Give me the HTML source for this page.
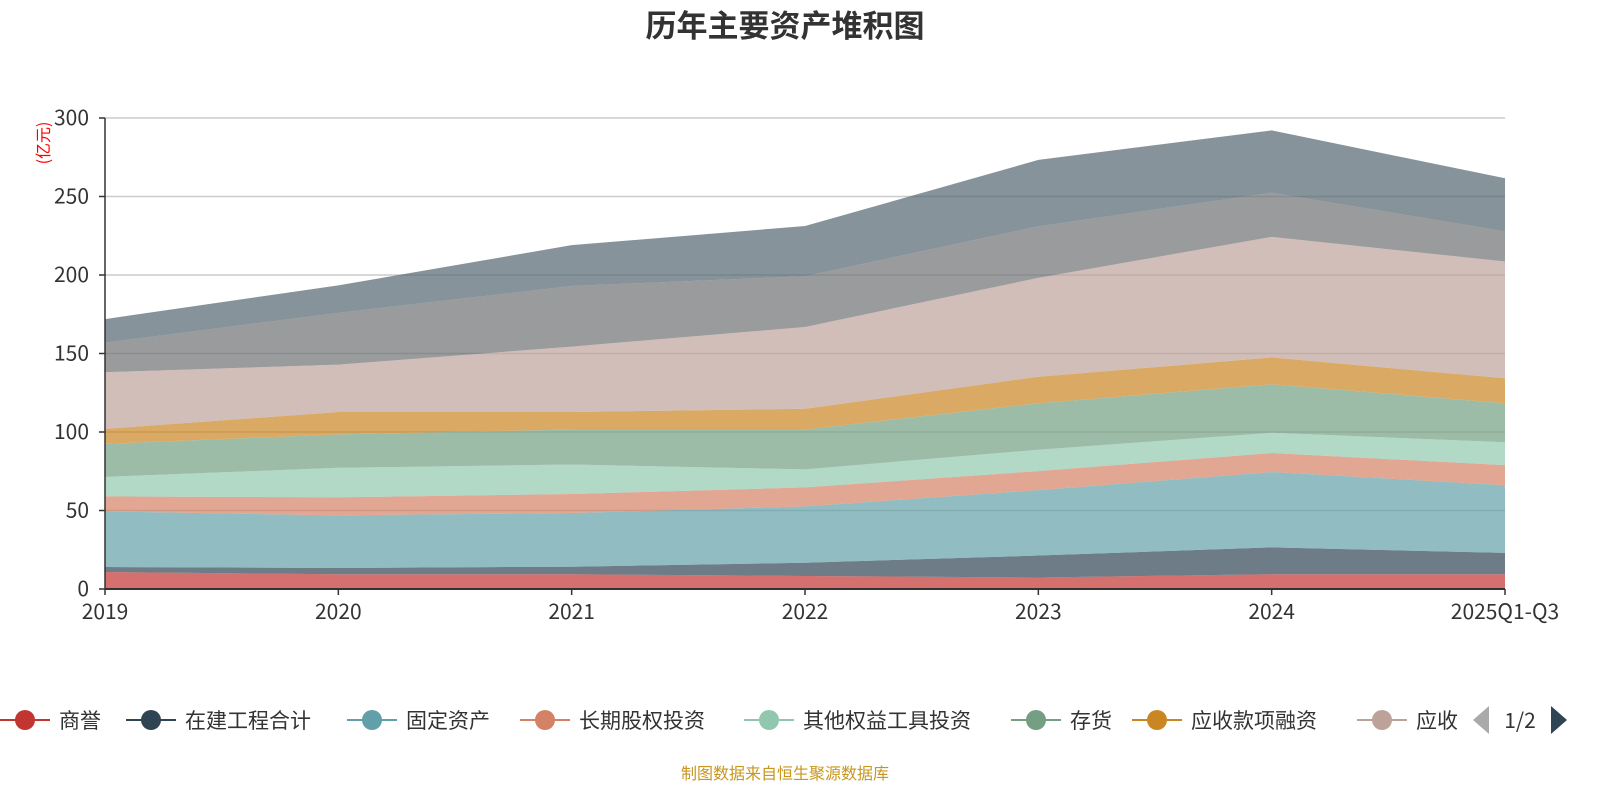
<!DOCTYPE html>
<html><head><meta charset="utf-8"><style>
body{margin:0;background:#fff;width:1600px;height:800px;overflow:hidden;font-family:"Liberation Sans","Noto Sans CJK SC",sans-serif;}
</style></head><body>
<svg id="chart" width="1600" height="800" xmlns="http://www.w3.org/2000/svg" style="font-family:'Noto Sans CJK SC','Liberation Sans',sans-serif">
<text x="785" y="37" text-anchor="middle" font-size="31" font-weight="bold" fill="#333">历年主要资产堆积图</text>
<text transform="translate(49,143) rotate(-90)" text-anchor="middle" font-size="16" fill="#ff0000">(亿元)</text>
<g id="grid"></g><g id="areas"></g><g id="axes"></g><g id="legend"></g>
<text x="785" y="779" text-anchor="middle" font-size="16" fill="#c8961e">制图数据来自恒生聚源数据库</text>
</svg>
<script>
const categories=["2019","2020","2021","2022","2023","2024","2025Q1-Q3"];
const seriesNames=["商誉","在建工程合计","固定资产","长期股权投资","其他权益工具投资","存货","应收款项融资","应收账款","货币资金","其他资产"];
const s0=[10.8,9.4,9.4,8.3,7.3,9.4,9.4];
const s1=[3.2,4.0,4.8,8.4,14.0,17.1,13.6];
const s2=[35.4,33.5,34.2,35.9,41.7,48.0,43.1];
const s3=[9.6,11.5,12.1,12.1,12.1,12.1,12.8];
const s4=[12.4,18.8,18.8,11.5,13.6,12.9,14.6];
const s5=[21.0,21.3,22.3,25.4,29.6,30.9,24.8];
const s6=[9.6,14.2,11.1,13.2,16.9,17.1,15.9];
const s7=[36.1,30.2,41.7,52.1,63.0,76.8,74.4];
const s8=[18.8,33.0,38.6,32.3,32.8,28.1,19.2];
const s9=[15.0,17.5,26.0,32.0,42.3,39.7,33.8];
const seriesValues=[s0,s1,s2,s3,s4,s5,s6,s7,s8,s9];
const yTicks=[0,50,100,150,200,250,300];
const colors=["#c23531","#2f4554","#61a0a8","#d48265","#91c7ae","#749f83","#ca8622","#bda29a","#6e7074","#546570"];
const NS="http://www.w3.org/2000/svg";
const X0=105,X1=1505,Y0=589,Y1=118,YMAX=300;
const xs=i=>X0+(X1-X0)*i/(categories.length-1);
const ys=v=>Y0-(Y0-Y1)*v/YMAX;
function mk(tag,attrs,parent){const e=document.createElementNS(NS,tag);for(const k in attrs)e.setAttribute(k,attrs[k]);parent.appendChild(e);return e;}
const grid=document.getElementById('grid'),areas=document.getElementById('areas'),axes=document.getElementById('axes'),legend=document.getElementById('legend');
yTicks.forEach(t=>{
  if(t>0){const l=mk('line',{x1:X0,x2:X1,y1:ys(t),y2:ys(t),stroke:'#ccc','stroke-width':1.5},grid);
  
  }
  const tk=mk('line',{x1:X0-6,x2:X0,y1:ys(t),y2:ys(t),stroke:'#333','stroke-width':1.5},axes);
  
  
  const tx=mk('text',{x:X0-16,y:ys(t)+7,'text-anchor':'end','font-size':21,fill:'#333'},axes);tx.textContent=t;
  
  
});
let cum=categories.map(()=>0);
seriesValues.forEach((vals,si)=>{
  const lower=cum.slice();cum=cum.map((c,i)=>c+vals[i]);
  let d='M'+categories.map((_,i)=>xs(i)+','+ys(cum[i])).join(' L');
  for(let i=categories.length-1;i>=0;i--)d+=' L'+xs(i)+','+ys(lower[i]);
  const p=mk('path',{d:d+'Z',fill:colors[si],'fill-opacity':0.7},areas);
  
  
});
const ya=mk('line',{x1:X0,x2:X0,y1:Y1,y2:Y0,stroke:'#333','stroke-width':1.5},axes);


const xa=mk('line',{x1:X0,x2:X1,y1:Y0,y2:Y0,stroke:'#333','stroke-width':2},axes);


categories.forEach((c,i)=>{
  const tk=mk('line',{x1:xs(i),x2:xs(i),y1:Y0,y2:Y0+6,stroke:'#333','stroke-width':1.5},axes);
  
  
  const tx=mk('text',{x:xs(i),y:Y0+30,'text-anchor':'middle','font-size':21,fill:'#333'},axes);tx.textContent=c;
  
  
});
const legX=[25,151,372,545,769,1036,1157,1382];
legX.forEach((cx,i)=>{
  const g=mk('g',{},legend);
  
  
  mk('line',{x1:cx-25,x2:cx+25,y1:720,y2:720,stroke:colors[i],'stroke-width':2},g);
  mk('circle',{cx:cx,cy:720,r:10,fill:colors[i]},g);
  const t=mk('text',{x:cx+34,y:728,'font-size':21,fill:'#333'},g);
  t.textContent=i===7?'应收':seriesNames[i];
});
const pl=mk('path',{d:'M1489,706 L1473,720 L1489,734Z',fill:'#aaa'},legend);


const pt=mk('text',{x:1520,y:728,'text-anchor':'middle','font-size':21,fill:'#333'},legend);pt.textContent='1/2';


const pr=mk('path',{d:'M1551,706 L1567,720 L1551,734Z',fill:'#2f4554'},legend);


</script>
</body></html>
